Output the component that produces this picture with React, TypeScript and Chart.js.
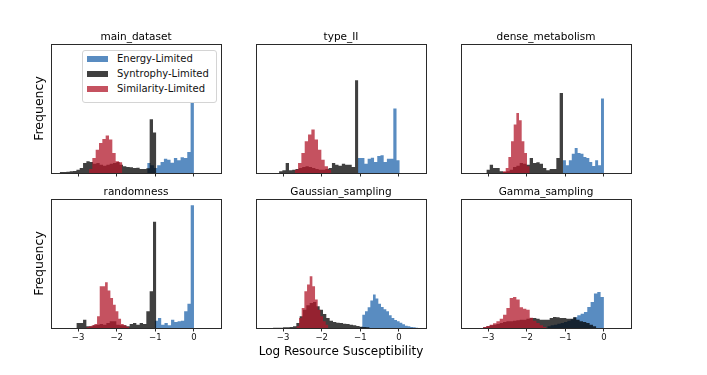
import React, { useEffect, useRef } from 'react';
import { Chart, registerables } from 'chart.js';

Chart.register(...registerables);

// ---------------- data ----------------
const PANEL_TITLES = ['main_dataset', 'type_II', 'dense_metabolism', 'randomness', 'Gaussian_sampling', 'Gamma_sampling'];
const SERIES_LABELS = ['Energy-Limited', 'Syntrophy-Limited', 'Similarity-Limited'];
const SERIES_COLORS = ['rgba(33,102,172,0.75)', 'rgba(0,0,0,0.75)', 'rgba(178,24,43,0.75)'];
const X_TICKS = [-3, -2, -1, 0];
const X_MIN = -3.7;
const X_MAX = 0.7;
const X_LABEL = 'Log Resource Susceptibility';
const Y_LABEL = 'Frequency';

// bin start / bin width per panel (order: PANEL_TITLES)
const energyStart = [-1.21, -1.06, -1.06, -1.017, -1.017, -1.466];
const energyWidth = [0.0864, 0.0831, 0.0757, 0.0848, 0.069, 0.0862];
const syntrophyStart = [-3.474, -3.103, -3.043, -3.043, -3.259, -3.129];
const syntrophyWidth = [0.0862, 0.0855, 0.0862, 0.0862, 0.0862, 0.0862];
const similarityStart = [-2.716, -2.698, -2.612, -2.784, -2.655, -3.129];
const similarityWidth = [0.0862, 0.0862, 0.069, 0.069, 0.069, 0.0862];

// Energy-Limited counts
const energyMain = [30, 23, 15, 23, 33, 43, 40, 31, 45, 38, 47, 45, 63, 330];
const energyTypeII = [45, 45, 28, 43, 46, 33, 51, 53, 33, 43, 43, 193, 38];
const energyDense = [38, 23, 38, 58, 75, 60, 58, 48, 45, 33, 21, 38, 23, 223];
const energyRandom = [22, 30, 10, 15, 8, 25, 18, 20, 22, 50, 73, 368];
const energyGaussian = [3, 40, 50, 62, 82, 100, 88, 73, 63, 56, 50, 38, 30, 24, 20, 16, 11, 7, 5, 3, 2, 1];
const energyGamma = [5, 8, 10, 13, 15, 18, 22, 26, 32, 38, 43, 48, 63, 78, 103, 108, 93];

// Syntrophy-Limited counts
const syntrophyMain = [3, 3, 4, 5, 6, 10, 15, 30, 35, 33, 28, 30, 25, 22, 25, 28, 30, 33, 25, 20, 18, 17, 15, 16, 12, 12, 14, 161, 121];
const syntrophyTypeII = [5, 8, 30, 8, 10, 12, 15, 18, 20, 18, 15, 12, 10, 10, 12, 15, 30, 25, 22, 28, 25, 25, 18, 278];
const syntrophyDense = [10, 25, 15, 15, 5, 3, 5, 10, 18, 22, 30, 28, 25, 45, 30, 32, 28, 15, 8, 12, 12, 45, 240];
const syntrophyRandom = [15, 15, 25, 5, 5, 8, 10, 12, 10, 15, 20, 20, 10, 8, 8, 5, 12, 15, 10, 15, 12, 50, 110, 318];
const syntrophyGaussian = [1, 1, 1, 2, 2, 3, 5, 15, 35, 55, 68, 75, 78, 65, 55, 42, 30, 22, 18, 16, 15, 13, 12, 10, 8, 6, 4, 3, 2];
const syntrophyGamma = [2, 5, 8, 10, 12, 15, 18, 20, 20, 22, 23, 25, 25, 28, 30, 30, 28, 25, 25, 25, 30, 33, 32, 30, 30, 28, 28, 32, 25, 20, 18, 15, 10, 5];

// Similarity-Limited counts
const similarityMain = [12, 45, 70, 90, 102, 112, 100, 60, 35, 32];
const similarityTypeII = [10, 30, 60, 95, 115, 130, 100, 70, 40, 20, 10];
const similarityDense = [5, 15, 48, 95, 145, 180, 158, 95, 60, 20];
const similarityRandom = [3, 5, 8, 12, 35, 125, 125, 137, 112, 90, 70, 50, 28, 12, 8, 4];
const similarityGaussian = [5, 30, 60, 110, 130, 155, 125, 85, 55, 35, 20, 10];
const similarityGamma = [3, 6, 10, 14, 20, 28, 40, 60, 90, 93, 85, 62, 58, 55, 31, 22, 15, 8, 3];

const STARTS = [energyStart, syntrophyStart, similarityStart];
const WIDTHS = [energyWidth, syntrophyWidth, similarityWidth];
const COUNTS = [
  [energyMain, energyTypeII, energyDense, energyRandom, energyGaussian, energyGamma],
  [syntrophyMain, syntrophyTypeII, syntrophyDense, syntrophyRandom, syntrophyGaussian, syntrophyGamma],
  [similarityMain, similarityTypeII, similarityDense, similarityRandom, similarityGaussian, similarityGamma],
];

// shared y axis: matplotlib-style 5% headroom over the largest bin
const Y_MAX = 1.05 * Math.max(...COUNTS.flat(2));

// ---------------- layout ----------------
const COL_LEFT = [51, 256, 461];
const ROW_TOP = [44, 199];
const PANEL_W = 170;
const PANEL_H = 129;
const TITLE_H = 14;
const FONT = "'DejaVu Sans', sans-serif";
const SPINE = '#2a2a2a';

Chart.defaults.font.family = FONT;
Chart.defaults.color = '#000';

function histPoints(start: number, width: number, counts: number[]) {
  const pts = counts.map((c, i) => ({ x: start + i * width, y: c }));
  pts.push({ x: start + counts.length * width, y: 0 });
  return pts;
}

function fmtTick(v: number) {
  return v < 0 ? '\u2212' + String(-v) : String(v);
}

function Panel({ idx }: { idx: number }) {
  const ref = useRef<HTMLCanvasElement | null>(null);
  const col = idx % 3;
  const row = Math.floor(idx / 3);
  const L = col === 0 ? 30 : 4;
  const R = 4;
  const B = row === 0 ? 8 : 40;
  const width = L + PANEL_W + R;
  const height = TITLE_H + PANEL_H + B;
  const left = COL_LEFT[col] - L;
  const top = ROW_TOP[row] - TITLE_H;

  useEffect(() => {
    if (!ref.current) return;
    const datasets = [0, 1, 2].map((s) => ({
      label: SERIES_LABELS[s],
      data: histPoints(STARTS[s][idx], WIDTHS[s][idx], COUNTS[s][idx]),
      stepped: 'before' as const,
      fill: 'origin' as const,
      backgroundColor: SERIES_COLORS[s],
      borderColor: 'rgba(0,0,0,0)',
      borderWidth: 0,
      pointRadius: 0,
      pointHoverRadius: 0,
      order: 3 - s,
    }));
    const border = { display: true, color: SPINE, width: 1, z: 1 };
    const chart = new Chart(ref.current, {
      type: 'line',
      data: { datasets },
      options: {
        animation: false,
        responsive: false,
        events: [],
        layout: { padding: { left: 0, right: R, top: 0, bottom: 0 }, autoPadding: false },
        plugins: {
          legend: { display: false },
          tooltip: { enabled: false },
          title: {
            display: true,
            text: PANEL_TITLES[idx],
            fullSize: false,
            padding: 0,
            color: '#000',
            font: { size: 10.5, lineHeight: '14px', weight: 'normal', family: FONT },
          },
        },
        scales: {
          x: {
            type: 'linear',
            min: X_MIN,
            max: X_MAX,
            afterBuildTicks: (s: any) => {
              s.ticks = X_TICKS.map((v) => ({ value: v }));
            },
            afterFit: (s: any) => {
              s.height = B;
            },
            grid: { display: true, drawOnChartArea: false, drawTicks: true, tickLength: 3.5, color: SPINE, lineWidth: 1 },
            border,
            ticks: {
              display: row === 1,
              padding: 1,
              color: '#111',
              autoSkip: false,
              maxRotation: 0,
              font: { size: 8.5, family: FONT },
              callback: (v: any) => fmtTick(Number(v)),
            },
            title: {
              display: idx === 4,
              text: X_LABEL,
              color: '#000',
              font: { size: 12, lineHeight: '14px', family: FONT },
              padding: { top: 0, bottom: 9 },
            },
          },
          x2: {
            type: 'linear',
            position: 'top',
            display: true,
            grid: { display: false },
            ticks: { display: false },
            border,
            afterFit: (s: any) => {
              s.height = 0;
            },
          },
          y: {
            type: 'linear',
            position: 'left',
            min: 0,
            max: Y_MAX,
            afterFit: (s: any) => {
              s.width = L;
            },
            grid: { display: false },
            ticks: { display: false },
            border,
            title: {
              display: col === 0,
              text: Y_LABEL,
              color: '#000',
              font: { size: 12.5, lineHeight: '14px', family: FONT },
              padding: { top: 12, bottom: 0 },
            },
          },
          y2: {
            type: 'linear',
            position: 'right',
            display: true,
            grid: { display: false },
            ticks: { display: false },
            border,
            afterFit: (s: any) => {
              s.width = 0;
            },
          },
        },
      } as any,
    });
    return () => chart.destroy();
  }, []);

  return (
    <canvas
      ref={ref}
      width={width}
      height={height}
      style={{ position: 'absolute', left, top, width, height, display: 'block' }}
    />
  );
}

function Legend() {
  return (
    <div
      style={{
        position: 'absolute',
        left: 82,
        top: 50,
        width: 135,
        height: 53,
        boxSizing: 'border-box',
        border: '1px solid #d4d4d4',
        borderRadius: 3,
        background: '#fff',
        zIndex: 2,
        fontFamily: FONT,
        fontSize: 10,
        color: '#111',
      }}
    >
      {SERIES_LABELS.map((lab, i) => (
        <div
          key={lab}
          style={{ position: 'absolute', left: 0, top: i * 15, height: 15, display: 'flex', alignItems: 'center', whiteSpace: 'nowrap' }}
        >
          <div style={{ marginLeft: 4, width: 21, height: 6, background: SERIES_COLORS[i] }} />
          <span style={{ marginLeft: 9, lineHeight: '15px' }}>{lab}</span>
        </div>
      ))}
    </div>
  );
}

export default function App() {
  return (
    <div style={{ position: 'absolute', left: 0, top: 0, width: 707, height: 375, background: '#fff', overflow: 'hidden' }}>
      {PANEL_TITLES.map((_, i) => (
        <Panel key={i} idx={i} />
      ))}
      <Legend />
    </div>
  );
}
